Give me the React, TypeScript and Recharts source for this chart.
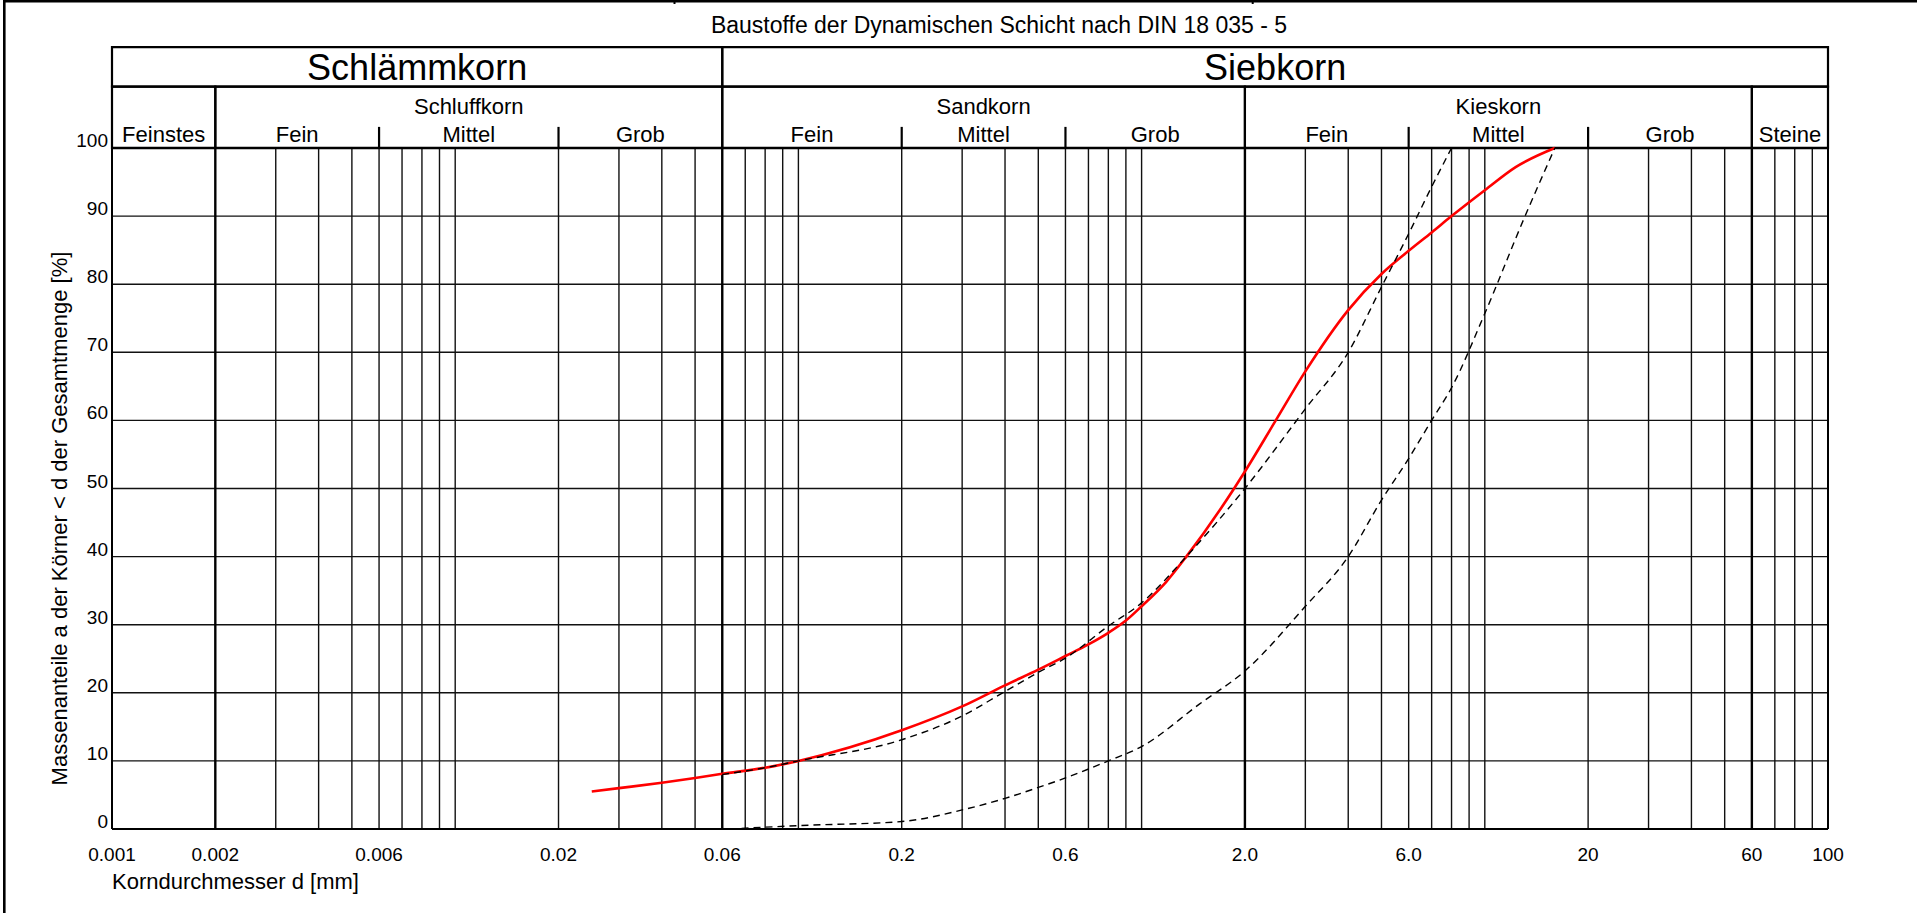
import React from "react";
import {
    LineChart,
    Line,
    XAxis,
    YAxis,
    CartesianGrid,
    ReferenceLine,
    ReferenceArea,
} from "recharts";

const FONT = "'Liberation Sans', Arial, Helvetica, sans-serif";

// axis ticks
const xTicks = [0.001, 0.002, 0.006, 0.02, 0.06, 0.2, 0.6, 2, 6, 20, 60, 100];
const xTickLabels = ["0.001", "0.002", "0.006", "0.02", "0.06", "0.2", "0.6", "2.0", "6.0", "20", "60", "100"];
const yTicks = [0, 10, 20, 30, 40, 50, 60, 70, 80, 90, 100];

// vertical grid of the log paper
const gridThin = [
    0.003, 0.004, 0.005, 0.006, 0.007, 0.008, 0.009, 0.01,
    0.02, 0.03, 0.04, 0.05, 0.07, 0.08, 0.09, 0.1,
    0.2, 0.3, 0.4, 0.5, 0.6, 0.7, 0.8, 0.9, 1,
    3, 4, 5, 6, 7, 8, 9, 10,
    20, 30, 40, 50, 70, 80, 90,
];
const gridBold = [0.002, 0.06, 2, 60];
const gridEdge = [0.001, 100];
const subTicks = [0.006, 0.02, 0.2, 0.6, 6, 20];

// header table
const mainLabels = ["Schlämmkorn", "Siebkorn"];
const mainBounds = [[0.001, 0.06], [0.06, 100]];
const groupLabels = ["", "Schluffkorn", "Sandkorn", "Kieskorn", ""];
const groupBounds = [[0.001, 0.002], [0.002, 0.06], [0.06, 2], [2, 60], [60, 100]];
const subLabels = ["Feinstes", "Fein", "Mittel", "Grob", "Fein", "Mittel", "Grob", "Fein", "Mittel", "Grob", "Steine"];
const subBounds = [
    [0.001, 0.002], [0.002, 0.006], [0.006, 0.02], [0.02, 0.06],
    [0.06, 0.2], [0.2, 0.6], [0.6, 2], [2, 6], [6, 20], [20, 60], [60, 100],
];

// header rows, in % units above the plot
const HEAD_TOP = 114.8;
const HEAD_MID = 109.0;
const SUB_TICK = 103.1;

// measured grading curve (red)
const sampleD = [0.025, 0.03, 0.04, 0.05, 0.06, 0.08, 0.1, 0.2, 0.3, 0.4, 0.5, 0.6, 0.7, 0.8, 0.9, 1.0, 1.18, 1.35, 1.86, 2.0, 2.46, 3, 4, 5, 6, 7, 8, 10, 12.3, 16];
const sampleP = [5.5, 6.0, 6.8, 7.5, 8.1, 9.0, 10.0, 14.5, 18.0, 21.1, 23.4, 25.4, 27.1, 28.8, 30.6, 32.7, 36.3, 40, 50, 52.5, 60, 67.2, 76.2, 81.5, 84.9, 87.6, 90, 93.8, 97.2, 100];

// DIN 18035-5 envelope, upper limit
const upperD = [0.06, 0.08, 0.1, 0.2, 0.3, 0.4, 0.5, 0.6, 0.8, 1.0, 1.35, 2, 3, 4, 5, 6, 7, 8];
const upperP = [8.0, 9.0, 10.0, 13.1, 16.6, 20.2, 23.0, 25.1, 29.8, 33.2, 40, 50, 61.7, 70, 79.6, 87.4, 94.3, 100];

// DIN 18035-5 envelope, lower limit
const lowerD = [0.063, 0.1, 0.2, 0.3, 0.4, 0.5, 0.6, 0.8, 1.0, 1.47, 2, 3, 4, 5, 6, 7, 8, 10, 13, 16];
const lowerP = [0, 0.5, 1.1, 2.8, 4.5, 6.1, 7.5, 10.0, 12.1, 18.3, 23.2, 32.7, 40, 48.3, 54.4, 60, 64.8, 75.7, 89.6, 100];

const sample = sampleD.map((d, i) => ({ d, p: sampleP[i] }));
const upper = upperD.map((d, i) => ({ d, p: upperP[i] }));
const lower = lowerD.map((d, i) => ({ d, p: lowerP[i] }));

const renderYTick = (props: any) => {
    const { x, y, payload } = props;
    return (
        <text x={x} y={y - 1} textAnchor="end" fontSize={19} fontFamily={FONT} fill="#000">
            {payload.value}
        </text>
    );
};

const renderYLabel = (props: any) => {
    const vb = props.viewBox;
    const cx = vb.x + 17;
    const cy = vb.y + vb.height / 2 + 30;
    return (
        <text
            x={cx}
            y={cy}
            transform={`rotate(-90, ${cx}, ${cy})`}
            textAnchor="middle"
            dominantBaseline="central"
            fontSize={22}
            fontFamily={FONT}
            fill="#000"
        >
            Massenanteile a der Körner &lt; d der Gesamtmenge [%]
        </text>
    );
};

const renderXLabel = (props: any) => {
    const vb = props.viewBox;
    return (
        <text x={vb.x} y={vb.y + 60} fontSize={22} fontFamily={FONT} fill="#000">
            Korndurchmesser d [mm]
        </text>
    );
};

export default function App() {
    return (
        <div style={{ position: "absolute", left: 0, top: 0, width: 1917, height: 913, background: "#fff", overflow: "hidden" }}>
            <LineChart width={1917} height={913} margin={{ top: 148, right: 89, bottom: 24, left: 42 }}>
                <CartesianGrid vertical={false} stroke="#111" strokeWidth={1.4} />
                <XAxis
                    dataKey="d"
                    type="number"
                    scale="log"
                    domain={[0.001, 100]}
                    allowDataOverflow
                    ticks={xTicks}
                    interval={0}
                    tickFormatter={(v: number) => xTickLabels[xTicks.indexOf(v)] ?? String(v)}
                    axisLine={false}
                    tickLine={false}
                    tickSize={0}
                    tickMargin={19}
                    height={60}
                    tick={{ fontSize: 19, fill: "#000", fontFamily: FONT }}
                    label={renderXLabel}
                />
                <YAxis
                    type="number"
                    domain={[0, 100]}
                    ticks={yTicks}
                    interval={0}
                    axisLine={false}
                    tickLine={false}
                    tickSize={0}
                    tickMargin={4}
                    width={70}
                    tick={renderYTick}
                    label={renderYLabel}
                />

                {gridThin.map((v) => (
                    <ReferenceLine key={`t${v}`} x={v} stroke="#111" strokeWidth={1.4} />
                ))}
                {gridBold.map((v) => (
                    <ReferenceLine key={`b${v}`} x={v} stroke="#000" strokeWidth={2.4} />
                ))}
                {gridEdge.map((v) => (
                    <ReferenceLine key={`e${v}`} x={v} stroke="#000" strokeWidth={2} />
                ))}
                <ReferenceLine y={0} stroke="#000" strokeWidth={2.2} />
                <ReferenceLine y={100} stroke="#000" strokeWidth={2.4} />

                {mainLabels.map((t, i) => (
                    <ReferenceArea
                        key={`m${i}`}
                        x1={mainBounds[i][0]}
                        x2={mainBounds[i][1]}
                        y1={HEAD_MID}
                        y2={HEAD_TOP}
                        ifOverflow="visible"
                        fill="none"
                        stroke="#000"
                        strokeWidth={2.2}
                        label={{ value: t, position: "center", fontSize: 36, fill: "#000", fontFamily: FONT }}
                    />
                ))}
                {groupLabels.map((t, i) => (
                    <ReferenceArea
                        key={`g${i}`}
                        x1={groupBounds[i][0]}
                        x2={groupBounds[i][1]}
                        y1={100}
                        y2={HEAD_MID}
                        ifOverflow="visible"
                        fill="none"
                        stroke="#000"
                        strokeWidth={2.2}
                        label={t ? { value: t, position: "insideTop", offset: 12, fontSize: 22, fill: "#000", fontFamily: FONT } : undefined}
                    />
                ))}
                {subLabels.map((t, i) => (
                    <ReferenceArea
                        key={`s${i}`}
                        x1={subBounds[i][0]}
                        x2={subBounds[i][1]}
                        y1={100}
                        y2={HEAD_MID}
                        ifOverflow="visible"
                        fill="none"
                        stroke="none"
                        label={{ value: t, position: "insideBottom", offset: 6, fontSize: 22, fill: "#000", fontFamily: FONT }}
                    />
                ))}
                {subTicks.map((v) => (
                    <ReferenceLine
                        key={`st${v}`}
                        segment={[{ x: v, y: 100 }, { x: v, y: SUB_TICK }]}
                        ifOverflow="visible"
                        stroke="#000"
                        strokeWidth={2.2}
                    />
                ))}

                <Line
                    data={sample}
                    dataKey="p"
                    type="monotone"
                    stroke="#ff0000"
                    strokeWidth={2.6}
                    dot={false}
                    activeDot={false}
                    isAnimationActive={false}
                />
                <Line
                    data={upper}
                    dataKey="p"
                    type="monotone"
                    stroke="#000"
                    strokeWidth={1.4}
                    strokeDasharray="7 5"
                    dot={false}
                    activeDot={false}
                    isAnimationActive={false}
                />
                <Line
                    data={lower}
                    dataKey="p"
                    type="monotone"
                    stroke="#000"
                    strokeWidth={1.4}
                    strokeDasharray="7 5"
                    dot={false}
                    activeDot={false}
                    isAnimationActive={false}
                />
            </LineChart>

            {/* page frame and title */}
            <svg width={1917} height={913} style={{ position: "absolute", left: 0, top: 0, pointerEvents: "none" }}>
                <line x1={4.3} y1={0} x2={4.3} y2={913} stroke="#000" strokeWidth={2.6} />
                <line x1={3} y1={1.3} x2={1917} y2={1.3} stroke="#000" strokeWidth={2.6} />
                <line x1={674.5} y1={0} x2={674.5} y2={4} stroke="#000" strokeWidth={2} />
                <line x1={1252.7} y1={0} x2={1252.7} y2={4} stroke="#000" strokeWidth={2} />
                <text x={999} y={33} textAnchor="middle" fontSize={23} fontFamily={FONT} fill="#000">
                    Baustoffe der Dynamischen Schicht nach DIN 18 035 - 5
                </text>
            </svg>
        </div>
    );
}
